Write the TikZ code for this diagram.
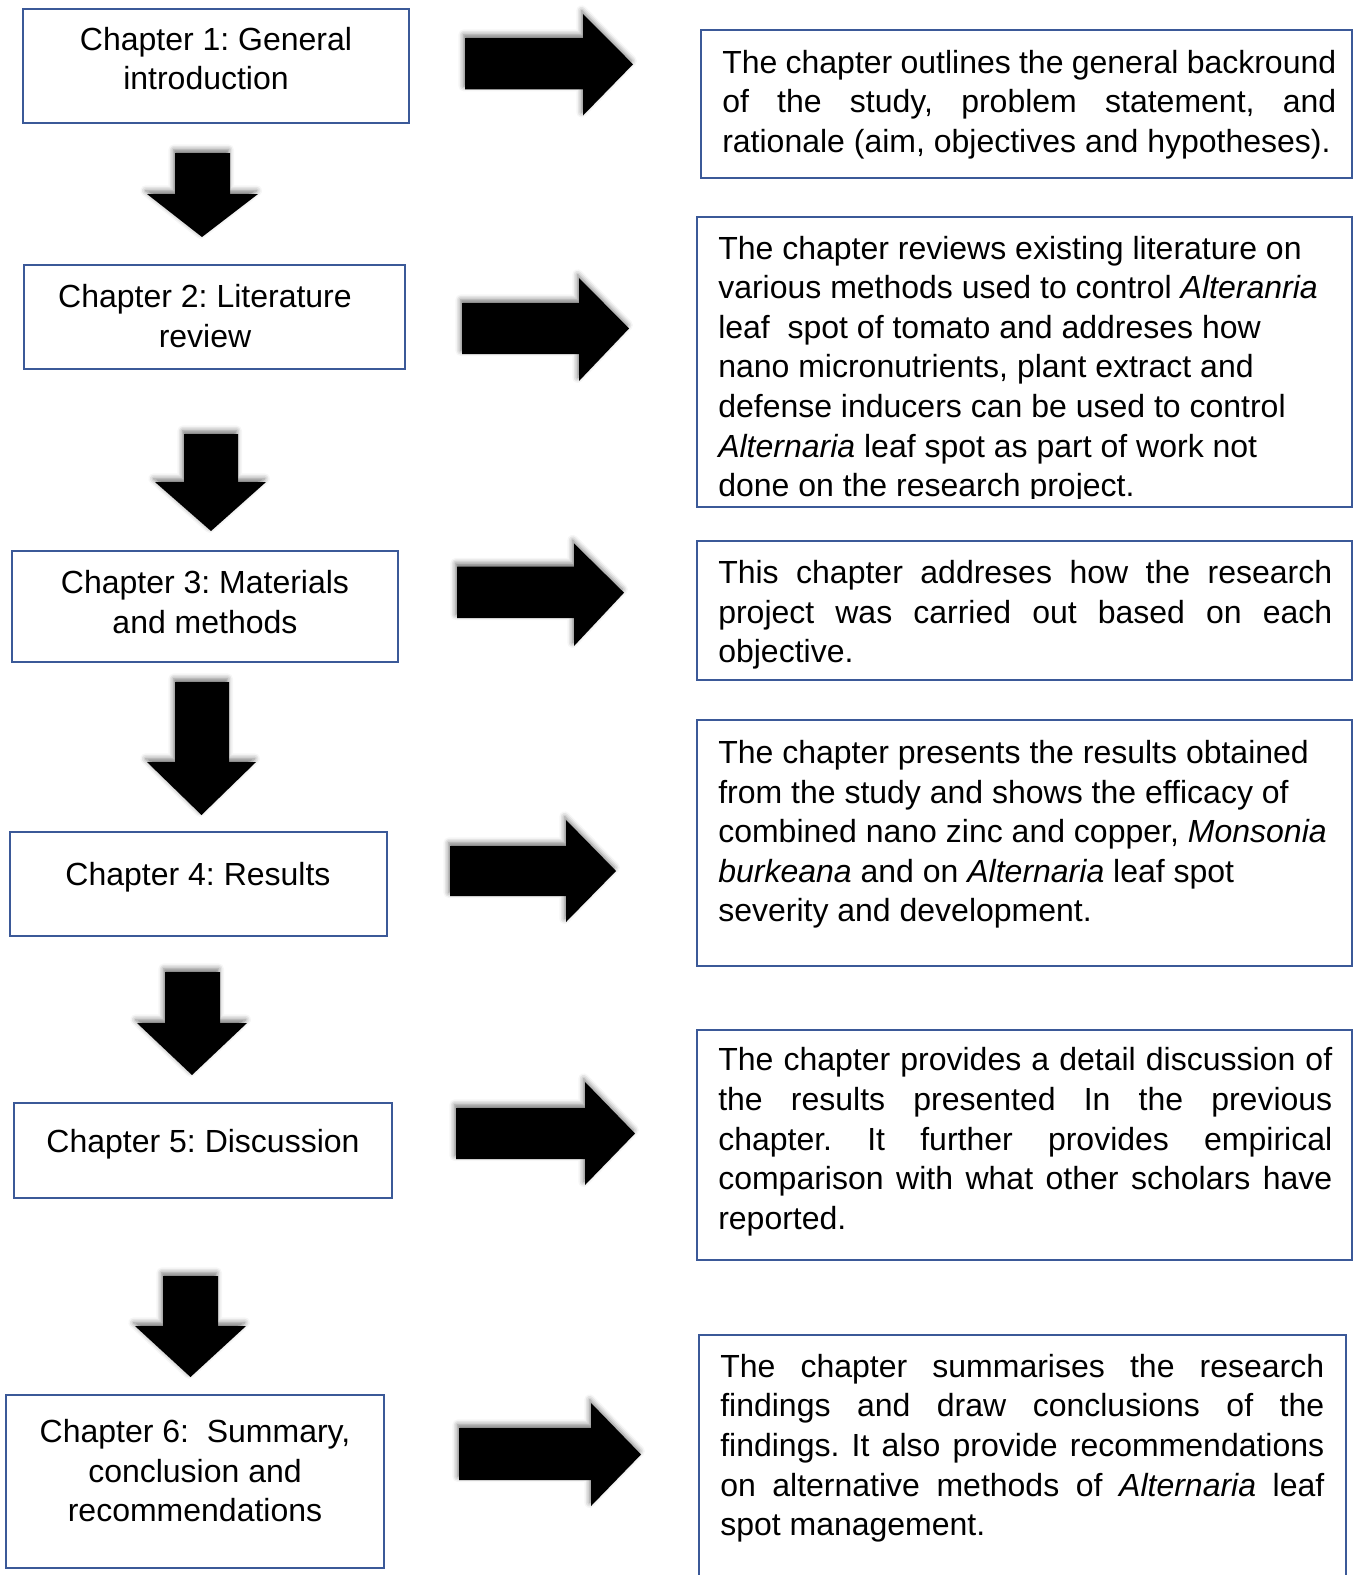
\documentclass[tikz,border=0pt]{standalone}
\usepackage{fontspec}
\setmainfont{Liberation Sans}
\usetikzlibrary{shadows.blur}
\definecolor{boxblue}{RGB}{59,89,152}
\newcommand{\jl}[1]{\makebox[\linewidth][s]{#1}}
\frenchspacing
\begin{document}
\begin{tikzpicture}[x=0.75pt,y=-0.75pt,
  chbox/.style={draw=boxblue,line width=1.5pt},
  blockarrow/.style={fill=black,blur shadow={shadow xshift=-1pt,shadow yshift=2.5pt,shadow blur radius=4pt,shadow opacity=55}},
  rtxt/.style={inner sep=0pt,anchor=base west,font=\fontsize{24}{29.7}\selectfont\frenchspacing},
  ctxt/.style={inner sep=0pt,anchor=base,font=\fontsize{24}{29.7}\selectfont\frenchspacing}]
\useasboundingbox (0,0) rectangle (1355,1575);

% left boxes
\draw[chbox] (23,9) rectangle (409,123);
\draw[chbox] (24,265) rectangle (405,369);
\draw[chbox] (12,551) rectangle (398,662);
\draw[chbox] (10,832) rectangle (387,936);
\draw[chbox] (14,1103) rectangle (392,1198);
\draw[chbox] (6,1395) rectangle (384,1568);

\node[ctxt] (c1) at (216,50.2) {\parbox[t]{285pt}{\centering Chapter 1: General\\ introduction\kern15pt}};
\node[ctxt] (c2) at (205,307.4) {\parbox[t]{285pt}{\centering Chapter 2: Literature\\ review}};
\node[ctxt] (c3) at (205,593.6) {\parbox[t]{285pt}{\centering Chapter 3: Materials\\ and methods}};
\node[ctxt] (c4) at (198,885) {\parbox[t]{285pt}{\centering Chapter 4: Results}};
\node[ctxt] (c5) at (203,1152.1) {\parbox[t]{285pt}{\centering Chapter 5: Discussion}};
\node[ctxt] (c6) at (195,1442.4) {\parbox[t]{285pt}{\centering Chapter 6:\ \ Summary,\\ conclusion and\\ recommendations}};

% right boxes
\draw[chbox] (701,30) rectangle (1352,178);
\draw[chbox] (697,217) rectangle (1352,507);
\draw[chbox] (697,541) rectangle (1352,680);
\draw[chbox] (697,720) rectangle (1352,966);
\draw[chbox] (697,1030) rectangle (1352,1260);
\draw[chbox] (699,1580) -- (699,1335) -- (1346,1335) -- (1346,1580);

\node[rtxt] (d1) at (722,73.3) {\parbox[t]{460.5pt}{\raggedright
\jl{The chapter outlines the general backround}\\
\jl{of the study, problem statement, and}\\
rationale (aim, objectives and hypotheses).}};
\begin{scope}
\clip (698,218) rectangle (1351,498);
\node[rtxt] (d2) at (718,259.1) {\parbox[t]{470pt}{\raggedright
The chapter reviews existing literature on\\
various methods used to control \textit{Alteranria}\\
leaf\ \ spot of tomato and addreses how\\
nano micronutrients, plant extract and\\
defense inducers can be used to control\\
\textit{Alternaria} leaf spot as part of work not\\
done on the research project.}};
\end{scope}
\node[rtxt] (d3) at (718,583.6) {\parbox[t]{460.5pt}{\raggedright
\jl{This chapter addreses how the research}\\
\jl{project was carried out based on each}\\
objective.}};
\node[rtxt] (d4) at (718,763.4) {\parbox[t]{470pt}{\raggedright
The chapter presents the results obtained\\
from the study and shows the efficacy of\\
combined nano zinc and copper, \textit{Monsonia}\\
\textit{burkeana} and on \textit{Alternaria} leaf spot\\
severity and development.}};
\node[rtxt] (d5) at (718,1070.8) {\parbox[t]{460.5pt}{\raggedright
\jl{The chapter provides a detail discussion of}\\
\jl{the results presented In the previous}\\
\jl{chapter. It further provides empirical}\\
\jl{comparison with what other scholars have}\\
reported.}};
\node[rtxt] (d6) at (720,1377.2) {\parbox[t]{453pt}{\raggedright
\jl{The chapter summarises the research}\\
\jl{findings and draw conclusions of the}\\
\jl{findings. It also provide recommendations}\\
\jl{on alternative methods of \textit{Alternaria} leaf}\\
spot management.}};

% right block arrows
\path[blockarrow] (465,38) -- (583,38) -- (583,14) -- (633,64.3) -- (583,115.5) -- (583,89.4) -- (465,89.4) -- cycle;
\path[blockarrow] (462,303) -- (579,303) -- (579,278) -- (629,328.5) -- (579,381) -- (579,354) -- (462,354) -- cycle;
\path[blockarrow] (457,566.5) -- (574,566.5) -- (574,543.5) -- (624,592.7) -- (574,646) -- (574,618) -- (457,618) -- cycle;
\path[blockarrow] (450,846) -- (566,846) -- (566,820) -- (616,871) -- (566,922) -- (566,896) -- (450,896) -- cycle;
\path[blockarrow] (456,1108) -- (585,1108) -- (585,1082) -- (635,1133.5) -- (585,1185) -- (585,1159) -- (456,1159) -- cycle;
\path[blockarrow] (459,1428) -- (591,1428) -- (591,1403) -- (641,1454.5) -- (591,1506) -- (591,1480) -- (459,1480) -- cycle;

% down block arrows
\path[blockarrow] (175,153) -- (230,153) -- (230,194) -- (258,194) -- (202,237) -- (147,194) -- (175,194) -- cycle;
\path[blockarrow] (184,434) -- (238,434) -- (238,482) -- (266,482) -- (211,531) -- (155,482) -- (184,482) -- cycle;
\path[blockarrow] (175,682) -- (229,682) -- (229,762) -- (256,762) -- (201.5,815) -- (147,762) -- (175,762) -- cycle;
\path[blockarrow] (165,972) -- (220,972) -- (220,1023) -- (247,1023) -- (192,1075) -- (137,1023) -- (165,1023) -- cycle;
\path[blockarrow] (163,1276) -- (218,1276) -- (218,1326) -- (246,1326) -- (190.5,1377) -- (135,1326) -- (163,1326) -- cycle;
\end{tikzpicture}
\end{document}
